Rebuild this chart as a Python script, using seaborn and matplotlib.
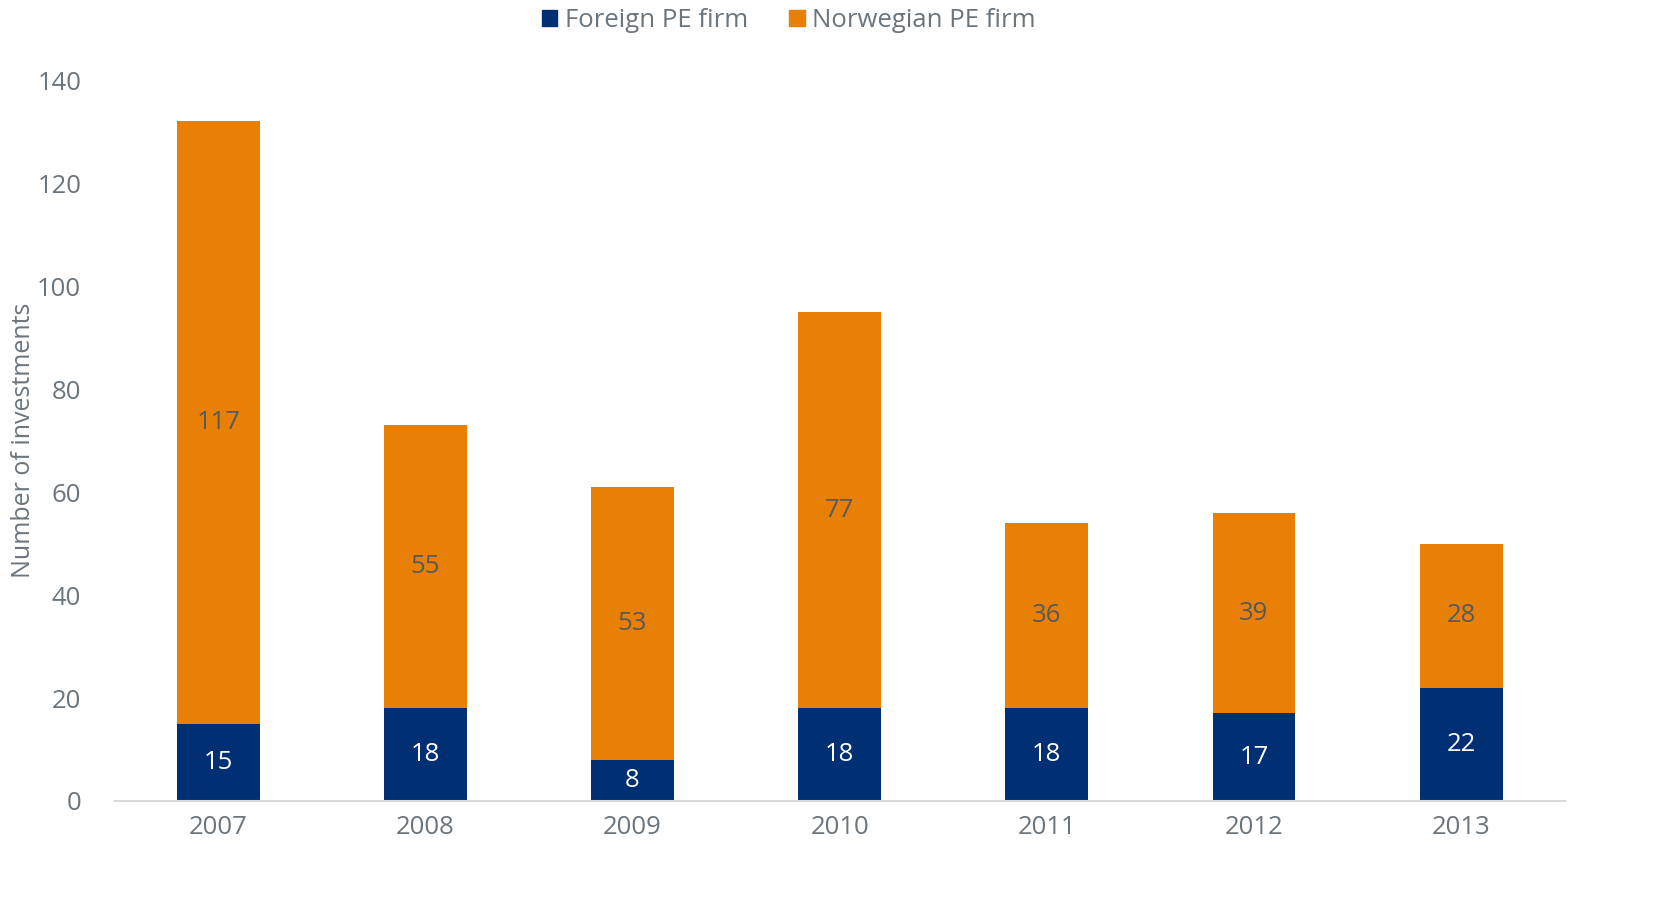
import matplotlib
matplotlib.use("Agg")
import matplotlib.pyplot as plt
import seaborn as sns
import pandas as pd
from matplotlib.patches import Patch

# values
years = ["2007", "2008", "2009", "2010", "2011", "2012", "2013"]
foreign = [15, 18, 8, 18, 18, 17, 22]
norwegian = [117, 55, 53, 77, 36, 39, 28]

navy = "#002F73"
orange = "#E98006"
grey = "#6B757D"

sns.set_style("white")
plt.rcParams["font.family"] = ["Open Sans", "DejaVu Sans"]

df = pd.DataFrame({"year": years, "foreign": foreign, "norwegian": norwegian})
df["total"] = df["foreign"] + df["norwegian"]

fig = plt.figure(figsize=(16.61, 9), dpi=100)
ax = fig.add_axes([0.069, 0.11, 0.873, 0.801])

# stacked bars: totals in orange, foreign part drawn over them in navy
sns.barplot(data=df, x="year", y="total", color=orange, saturation=1, width=0.4,
            linewidth=0, ax=ax)
sns.barplot(data=df, x="year", y="foreign", color=navy, saturation=1, width=0.4,
            linewidth=0, ax=ax)

for i, row in df.iterrows():
    ax.text(i, row["foreign"] / 2, str(row["foreign"]), ha="center", va="center",
            color="white", fontsize=18.5)
    ax.text(i, row["foreign"] + row["norwegian"] / 2, str(row["norwegian"]),
            ha="center", va="center", color="#595959", fontsize=18.5)

ax.set_xlim(-0.5, 6.5)
ax.set_ylim(0, 140)
ax.set_yticks(range(0, 141, 20))
ax.set_xlabel("")
ax.set_ylabel("Number of investments", color=grey, fontsize=18)
ax.yaxis.set_label_coords(-0.054, 0.5)
ax.tick_params(axis="both", colors=grey, labelsize=18.5, length=0)
ax.tick_params(axis="y", pad=24)
ax.tick_params(axis="x", pad=10)
for s in ["top", "right", "left"]:
    ax.spines[s].set_visible(False)
ax.spines["bottom"].set_color("#D9D9D9")
ax.spines["bottom"].set_linewidth(1.5)

handles = [Patch(color=navy, label="Foreign PE firm"),
           Patch(color=orange, label="Norwegian PE firm")]
fig.legend(handles=handles, loc="center", bbox_to_anchor=(0.475, 0.977), ncol=2,
           frameon=False, fontsize=18.5, labelcolor=grey, handlelength=0.6,
           handleheight=0.6, handletextpad=0.3, columnspacing=1.6)

fig.savefig("out.png", dpi=100)
